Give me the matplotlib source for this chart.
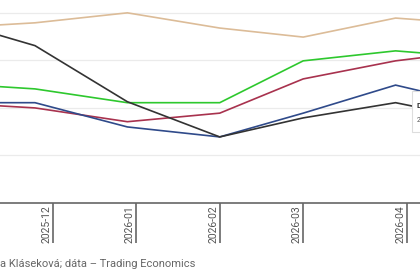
import matplotlib
matplotlib.use("Agg")
import matplotlib.pyplot as plt
import pandas as pd
from matplotlib.patches import Rectangle

# mesačné hodnoty (Nov 2025 - Máj 2026), odčítané z grafu
dates = pd.to_datetime(["2025-11-01", "2025-12-01", "2026-01-01", "2026-02-01",
                        "2026-03-01", "2026-04-01", "2026-05-01"])
tan_vals = [3.68, 3.79, 4.00, 3.68, 3.49, 3.89, 3.75]
green_vals = [2.52, 2.40, 2.11, 2.11, 2.99, 3.20, 3.05]
red_vals = [2.11, 2.00, 1.71, 1.89, 2.61, 2.99, 3.22]
blue_vals = [2.11, 2.11, 1.60, 1.39, 1.89, 2.48, 2.04]
black_vals = [3.86, 3.31, 2.13, 1.39, 1.79, 2.11, 1.73]

# popisky osi x (prvá nedeľa v mesiaci)
tick_dates = pd.to_datetime(["2025-12-07", "2026-01-04", "2026-02-01",
                             "2026-03-01", "2026-04-05"])
tick_labels = ["2025-12", "2026-01", "2026-02", "2026-03", "2026-04"]
grid_vals = [1, 2, 3, 4]

source = "a Kláseková; dáta – Trading Economics"

plt.rcParams['font.family'] = ['Roboto', 'DejaVu Sans']

fig = plt.figure(figsize=(4.2, 2.8), dpi=100)
ax = fig.add_axes([0, 0.275, 1, 0.725])

series = [
    (tan_vals, "#dcbc98"),
    (green_vals, "#2ec82e"),
    (red_vals, "#a8324e"),
    (blue_vals, "#2f4a8a"),
    (black_vals, "#333333"),
]
for vals, color in series:
    ax.plot(dates, vals, color=color, linewidth=1.2, solid_joinstyle="miter", zorder=3)

start = pd.Timestamp("2025-12-01")
ax.set_xlim(start - pd.Timedelta(days=11.74), start + pd.Timedelta(days=129.2))
ax.set_ylim(0, 4.27)

for g in grid_vals:
    ax.axhline(g, color="#ebebeb", linewidth=0.9, zorder=1)

for side in ["top", "left", "right"]:
    ax.spines[side].set_visible(False)
ax.spines["bottom"].set_color("#666666")
ax.spines["bottom"].set_linewidth(1.2)

ax.set_yticks([])
ax.set_xticks(tick_dates)
ax.set_xticklabels([])
ax.tick_params(axis="x", length=29, width=1.2, color="#666666", direction="out")

trans = ax.get_xaxis_transform()
for d, lab in zip(tick_dates, tick_labels):
    ax.text(d - pd.Timedelta(days=0.5), -0.01, lab, transform=trans, rotation=90,
            ha="right", va="top", fontsize=7.5, color="#555555")

# kúsok tooltipu na pravom okraji
ax.add_patch(Rectangle((0.982, 0.35), 0.1, 0.2, transform=ax.transAxes,
                       facecolor="white", edgecolor="#dddddd", linewidth=0.8,
                       zorder=5, clip_on=False))
ax.text(0.992, 0.47, "D", transform=ax.transAxes, fontsize=6, fontweight="bold",
        color="#333333", zorder=6)
ax.text(0.992, 0.40, "2", transform=ax.transAxes, fontsize=5, color="#555555", zorder=6)

fig.text(0.0, 0.058, source, fontsize=8, color="#666666", ha="left", va="center")

fig.savefig("out.png", dpi=100)
